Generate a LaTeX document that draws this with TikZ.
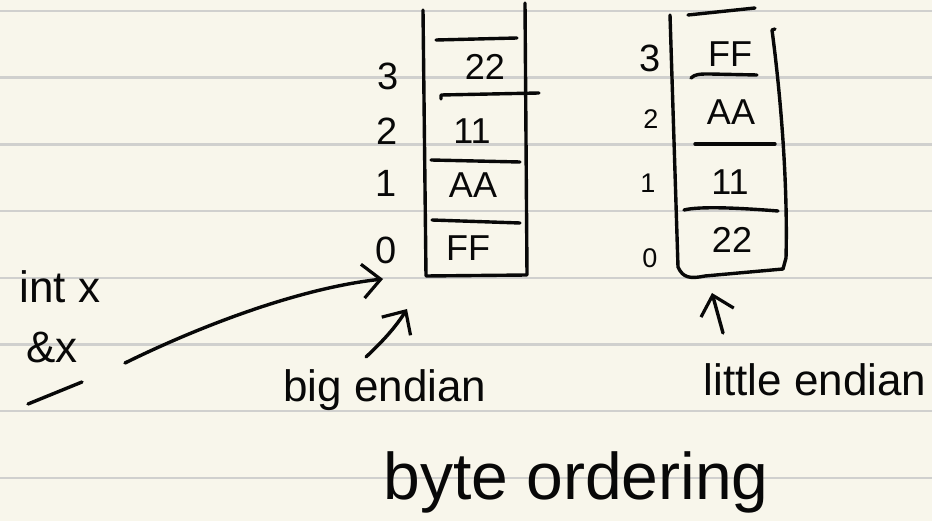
\documentclass[tikz,border=0pt]{standalone}
\usepackage{fontspec}
\setmainfont{Liberation Sans}
\usetikzlibrary{arrows.meta}
\definecolor{paper}{RGB}{248,246,235}
\definecolor{ruled}{RGB}{208,208,206}
\definecolor{ink}{RGB}{8,8,8}
\begin{document}
\begin{tikzpicture}[x=1pt,y=-1pt,
  pen/.style={draw=ink,line width=3.4pt,line cap=round,line join=round},
  penarrow/.style={pen,-{Straight Barb[length=18pt,width=34pt,line width=3.2pt]}},
  ruleline/.style={draw=ruled,line width=2.4pt},
  cell/.style={inner sep=0pt,text=ink,font=\fontsize{36}{36}\selectfont},
  idx/.style={inner sep=0pt,text=ink,font=\fontsize{38}{38}\selectfont},
  idxs/.style={inner sep=0pt,text=ink,font=\fontsize{27}{27}\selectfont},
  hand/.style={inner sep=0pt,text=ink,font=\fontsize{44}{44}\selectfont},
  title/.style={inner sep=0pt,text=ink,font=\fontsize{66}{66}\selectfont}]
\fill[paper] (0,0) rectangle (932,521);
\useasboundingbox (0,0) rectangle (932,521);
\foreach \i in {0,...,7}
  \draw[ruleline] (0,{11+66.7*\i}) -- (932,{11+66.7*\i});

% big endian column
\draw[pen] (423,10) -- (426,276) -- (527,275) -- (525,3);
\draw[pen] (436,40) -- (517,38);
\draw[pen] (441,99) -- (441,95) -- (539,93);
\draw[pen] (431,160) -- (520,162);
\draw[pen] (432,220) -- (520,223);
\node[cell] (b3) at (485,67) {22};
\node[cell] (b2) at (472,131) {11};
\node[cell] (b1) at (473,185) {AA};
\node[cell] (b0) at (468,248) {FF};
\node[idx] (ib3) at (388,76) {3};
\node[idx] (ib2) at (387,131) {2};
\node[idx] (ib1) at (386,183) {1};
\node[idx] (ib0) at (386,250) {0};

% little endian column
\draw[pen] (670,15) -- (678,267) .. controls (683,278) and (690,279) .. (705,276)
  -- (783,269) -- (786,258) .. controls (788,180) and (780,90) .. (772,30) -- (775,29);
\draw[pen] (688,15) -- (755,8);
\draw[pen] (691,78) .. controls (695,74) and (700,74) .. (710,74) -- (757,75);
\draw[pen] (695,144) -- (775,144);
\draw[pen] (684,210) .. controls (700,206) and (740,208) .. (778,211);
\node[cell] (l3) at (730,54) {FF};
\node[cell] (l2) at (731,112) {AA};
\node[cell] (l1) at (730,182) {11};
\node[cell] (l0) at (732,240) {22};
\node[idx] (il3) at (650,58) {3};
\node[idxs] (il2) at (651,119) {2};
\node[idxs] (il1) at (648,183) {1};
\node[idxs] (il0) at (650,258) {0};

% left labels
\node[hand] (intx) at (60,287) {int x};
\node[hand] (addrx) at (52,347) {\&x};
\coordinate (uA) at (28,404);
\coordinate (uB) at (82,382);
\draw[pen] (uA) -- (uB);

% pointer arrow
\coordinate (ptrS) at (125,363);
\coordinate (ptrE) at (383,279);
\draw[penarrow] (ptrS) .. controls (200,326) and (300,288) .. (ptrE);

% endian labels
\node[hand] (big) at (385,390) {big endian};
\node[hand] (little) at (815,380) {little endian};
\coordinate (bigS) at (366,357);
\coordinate (bigE) at (407,309);
\draw[penarrow] (bigS) .. controls (382,342) and (395,328) .. (bigE);
\coordinate (litS) at (723,333);
\coordinate (litE) at (712,293);
\draw[penarrow] (litS) -- (litE);

\node[title] (byte) at (576,482) {byte ordering};
\end{tikzpicture}
\end{document}
